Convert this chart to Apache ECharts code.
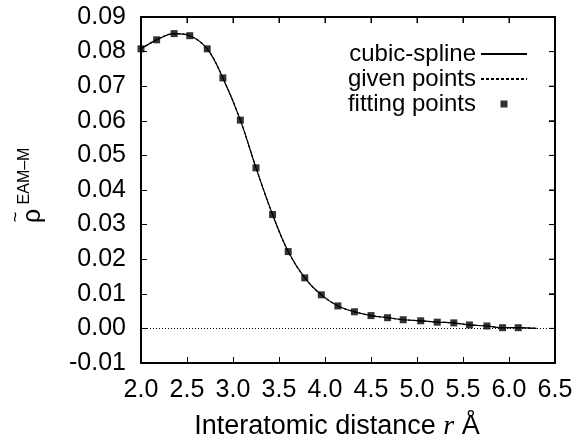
<!DOCTYPE html>
<html>
<head>
<meta charset="utf-8">
<script src="https://cdn.jsdelivr.net/npm/echarts@6/dist/echarts.min.js"></script>
<style>
html,body{margin:0;padding:0;background:#fff;}
#chart{width:585px;height:441px;}
</style>
</head>
<body>
<div id="chart"></div>
<script>
// Fitting points
const fitX = [2.00,2.17,2.36,2.53,2.72,2.89,3.08,3.25,3.43,3.60,3.78,3.96,4.14,4.32,4.50,4.68,4.85,5.04,5.22,5.40,5.57,5.76,5.93,6.10];
const fitY = [0.0808,0.0834,0.0852,0.0846,0.0808,0.0724,0.0602,0.0464,0.0329,0.0222,0.0146,0.0097,0.0065,0.0048,0.0037,0.0031,0.0025,0.0022,0.0018,0.0016,0.0010,0.0007,0.0002,0.0002];
// Spline tail end (cutoff)
const splineEndX = [6.30];
const splineEndY = [0.0];
// Axis ticks
const xTicks = {min: 2.0, max: 6.5, step: 0.5};
const yTicks = {min: -0.01, max: 0.09, step: 0.01};
const seriesNames = ['cubic-spline', 'given points', 'fitting points'];

const FONT = 'Liberation Sans, Arial, sans-serif';
const fitPts = fitX.map((x, i) => [x, fitY[i]]);
const splinePts = fitPts.concat(splineEndX.map((x, i) => [x, splineEndY[i]]));

const chart = echarts.init(document.getElementById('chart'));
const mkLine = () => ({show: true, onZero: false, lineStyle: {color: '#000', width: 1.5}});
const mkTick = () => ({show: true, inside: true, length: 6, lineStyle: {color: '#000', width: 1}});

const labelGraphics = [{
  type: 'text', x: 33, y: 216, rotation: Math.PI / 2,
  style: {text: 'ρ', font: '25px ' + FONT, fill: '#000', textAlign: 'center', textVerticalAlign: 'middle'}
}, {
  type: 'text', x: 16, y: 217, rotation: Math.PI / 2,
  style: {text: '~', font: '18px ' + FONT, fill: '#000', textAlign: 'center', textVerticalAlign: 'middle'}
}, {
  type: 'text', x: 25, y: 176, rotation: Math.PI / 2,
  style: {text: 'EAM\u2013M', font: '16px ' + FONT, fill: '#000', textAlign: 'center', textVerticalAlign: 'middle'}
}];

chart.setOption({
  animation: false,
  backgroundColor: '#fff',
  grid: {left: 141, right: 30, top: 17, bottom: 78, outerBoundsMode: 'none',
    show: true, borderColor: '#000', borderWidth: 1.5},
  xAxis: [{
    type: 'value', min: xTicks.min, max: xTicks.max, interval: xTicks.step,
    position: 'bottom',
    axisLine: mkLine(), axisTick: mkTick(), splitLine: {show: false},
    axisLabel: {color: '#000', fontFamily: FONT, fontSize: 25, margin: 15,
      formatter: v => v.toFixed(1)},
    name: '{a|Interatomic distance }{i|r}{a| Å}',
    nameLocation: 'middle', nameGap: 50,
    nameTextStyle: {padding: [0, 22, 0, 0],
      rich: {a: {fontFamily: FONT, fontSize: 27, color: '#000'},
             i: {fontFamily: 'Liberation Serif, serif', fontStyle: 'italic', fontSize: 28, color: '#000'}}}
  }, {
    type: 'value', min: xTicks.min, max: xTicks.max, interval: xTicks.step,
    position: 'top',
    axisLine: mkLine(), axisTick: mkTick(), splitLine: {show: false},
    axisLabel: {show: false}
  }],
  yAxis: [{
    type: 'value', min: yTicks.min, max: yTicks.max, interval: yTicks.step,
    position: 'left',
    axisLine: mkLine(), axisTick: mkTick(), splitLine: {show: false},
    axisLabel: {color: '#000', fontFamily: FONT, fontSize: 25, margin: 15,
      formatter: v => v.toFixed(2)}
  }, {
    type: 'value', min: yTicks.min, max: yTicks.max, interval: yTicks.step,
    position: 'right',
    axisLine: mkLine(), axisTick: mkTick(), splitLine: {show: false},
    axisLabel: {show: false}
  }],
  legend: {
    orient: 'vertical', right: 52, top: 37, align: 'right',
    itemWidth: 46, itemHeight: 7, itemGap: 1,
    textStyle: {fontFamily: FONT, fontSize: 24, color: '#000', lineHeight: 24},
    data: [
      {name: seriesNames[0], itemStyle: {color: 'rgba(0,0,0,0)'}},
      {name: seriesNames[1], itemStyle: {color: 'rgba(0,0,0,0)'}},
      {name: seriesNames[2], icon: 'path://M0,0h10v10h-10z', itemStyle: {color: '#000'}}
    ]
  },
  graphic: labelGraphics,
  series: [{
    name: seriesNames[1], type: 'line', data: splinePts, smooth: 0.35,
    symbol: 'none', z: 2,
    lineStyle: {color: '#000', width: 1.2, type: [3, 2]},
    itemStyle: {color: '#000'}
  }, {
    name: seriesNames[0], type: 'line', data: splinePts, smooth: 0.35,
    symbol: 'none', z: 3,
    lineStyle: {color: '#000', width: 1.2},
    itemStyle: {color: '#000'},
    markLine: {
      silent: true, symbol: ['none', 'none'], label: {show: false},
      lineStyle: {color: '#000', width: 1, type: [1, 2]},
      data: [{yAxis: 0}]
    }
  }, {
    name: seriesNames[2], type: 'scatter', data: fitPts,
    symbol: 'rect', symbolSize: 7, z: 4,
    itemStyle: {color: '#000'}
  }]
});

// Frame and mirrored ticks, placed through the chart's own axis scales
const toPx = (x, y) => chart.convertToPixel({xAxisIndex: 0, yAxisIndex: 0}, [x, y]);
const bl = toPx(xTicks.min, yTicks.min);
const tr = toPx(xTicks.max, yTicks.max);
const frame = [{
  type: 'rect', z: 50, silent: true,
  shape: {x: bl[0], y: tr[1], width: tr[0] - bl[0], height: bl[1] - tr[1]},
  style: {fill: 'none', stroke: '#000', lineWidth: 1.5}
}];
const nX = Math.round((xTicks.max - xTicks.min) / xTicks.step);
for (let i = 0; i <= nX; i++) {
  const p = toPx(xTicks.min + i * xTicks.step, yTicks.max);
  frame.push({type: 'line', z: 50, silent: true,
    shape: {x1: p[0], y1: tr[1], x2: p[0], y2: tr[1] + 6}, style: {stroke: '#000', lineWidth: 1}});
}
const nY = Math.round((yTicks.max - yTicks.min) / yTicks.step);
for (let i = 0; i <= nY; i++) {
  const p = toPx(xTicks.max, yTicks.min + i * yTicks.step);
  frame.push({type: 'line', z: 50, silent: true,
    shape: {x1: tr[0] - 6, y1: p[1], x2: tr[0], y2: p[1]}, style: {stroke: '#000', lineWidth: 1}});
}
chart.setOption({graphic: labelGraphics.concat(frame)});
</script>
</body>
</html>
